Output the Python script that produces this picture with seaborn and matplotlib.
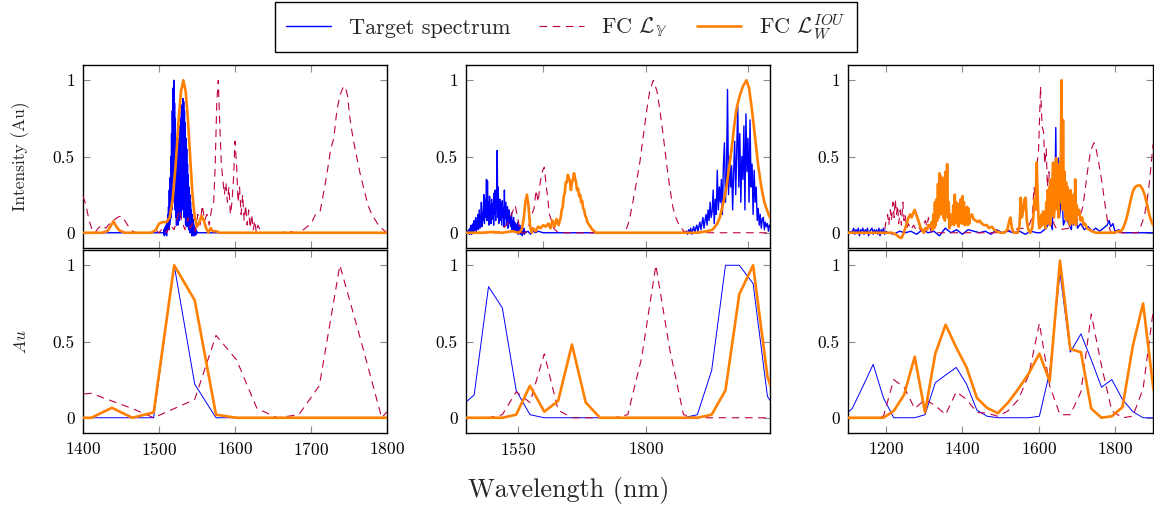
import numpy as np
import matplotlib
matplotlib.use("Agg")
import matplotlib.pyplot as plt
import seaborn as sns
from matplotlib.lines import Line2D

# ------------------------------------------------------------------ data
# ---- panel A (1400-1800 nm), top row: measured / predicted spectra
a_top_target_x0, a_top_target_step = 1506, 0.5
a_top_target_vals = [0.0, 0.02, -0.02, 0.03, -0.01, 0.04, 0.0, 0.05, -0.02, 0.07,
                     0.01, 0.12, 0.03, 0.17, 0.02, 0.28, 0.05, 0.36, 0.08, 0.5,
                     0.1, 0.65, 0.15, 0.8, 0.2, 0.95, 0.3, 1.0, 0.25, 0.85,
                     0.15, 0.75, 0.1, 0.62, 0.05, 0.58, 0.1, 0.52, 0.05, 0.55,
                     0.12, 0.62, 0.08, 0.7, 0.15, 0.75, 0.1, 0.8, 0.2, 0.84,
                     0.15, 0.88, 0.25, 0.86, 0.1, 0.8, 0.15, 0.72, 0.05, 0.62,
                     0.1, 0.55, 0.04, 0.45, 0.08, 0.38, 0.02, 0.3, 0.05, 0.25,
                     0.0, 0.2, 0.03, 0.15, -0.02, 0.12, 0.0, 0.09, -0.02, 0.06,
                     0.0, 0.04, -0.02, 0.03, -0.01, 0.02, -0.01, 0.01, 0.0]
a_top_fcy_x = [1400, 1404, 1408, 1412, 1416, 1420, 1425, 1430, 1435, 1440, 1445, 1450, 1455, 1460, 1465,
               1470, 1490, 1495, 1500, 1505, 1510, 1515, 1520, 1524, 1527, 1530, 1534, 1538, 1541, 1544,
               1548, 1551, 1554, 1557, 1560, 1563, 1566, 1569, 1572, 1574, 1576, 1578, 1580, 1582, 1584,
               1586, 1588, 1590, 1592, 1594, 1596, 1598, 1600, 1602, 1604, 1606, 1608, 1610, 1612, 1614,
               1616, 1618, 1620, 1622, 1624, 1626, 1628, 1630, 1634, 1640, 1660, 1670, 1680, 1690, 1700,
               1706, 1712, 1718, 1722, 1726, 1730, 1734, 1738, 1742, 1745, 1748, 1752, 1756, 1760, 1765,
               1770, 1775, 1780, 1785, 1790, 1795, 1800]
a_top_fcy_y = [0.24, 0.18, 0.08, 0.02, 0.0, 0.03, 0.05, 0.03, 0.06, 0.08, 0.1, 0.11, 0.08, 0.04, 0.01,
               0.0, 0.0, 0.02, 0.0, 0.03, 0.0, 0.05, 0.02, 0.1, 0.15, 0.08, 0.02, 0.1, 0.03, 0.06,
               0.01, 0.12, 0.05, 0.18, 0.08, 0.12, 0.05, 0.15, 0.2, 0.45, 0.85, 1.0, 0.7, 0.45, 0.35,
               0.25, 0.33, 0.2, 0.3, 0.12, 0.2, 0.35, 0.6, 0.45, 0.2, 0.3, 0.12, 0.25, 0.08, 0.18,
               0.05, 0.15, 0.03, 0.12, 0.02, 0.08, 0.0, 0.05, 0.01, 0.0, 0.0, 0.01, 0.0, 0.02, 0.06,
               0.12, 0.14, 0.3, 0.42, 0.55, 0.62, 0.8, 0.9, 0.95, 0.96, 0.9, 0.72, 0.6, 0.5, 0.38,
               0.28, 0.18, 0.12, 0.08, 0.04, 0.02, 0.0]
a_top_fciou_x = [1400, 1425, 1432, 1436, 1440, 1444, 1448, 1455, 1490, 1496, 1500, 1505, 1510, 1514, 1518,
                 1522, 1526, 1529, 1532, 1535, 1538, 1541, 1544, 1547, 1550, 1553, 1556, 1559, 1562, 1565,
                 1568, 1571, 1575, 1580, 1600, 1800]
a_top_fciou_y = [0.0, 0.0, 0.01, 0.04, 0.075, 0.04, 0.015, 0.0, 0.0, 0.02, 0.06, 0.07, 0.07, 0.1, 0.22,
                 0.45, 0.75, 0.93, 1.0, 0.93, 0.75, 0.5, 0.25, 0.1, 0.04, 0.07, 0.11, 0.08, 0.03, 0.0,
                 0.03, 0.01, 0.01, 0.0, 0.0, 0.0]

# ---- panel A, bottom row: binned spectra
a_bot_x = [1384, 1411, 1438, 1465, 1493, 1520, 1547, 1575, 1602, 1629, 1656, 1684, 1711, 1738, 1766, 1793, 1820]
a_bot_target = [0, 0, 0, 0, 0, 1.0, 0.22, 0, 0, 0, 0, 0, 0, 0, 0, 0, 0]
a_bot_fcy = [0.15, 0.16, 0.11, 0.06, 0.0, 0.06, 0.12, 0.54, 0.38, 0.06, 0.0, 0.02, 0.21, 1.0, 0.5, 0.0, 0.15]
a_bot_fciou = [0, 0, 0.065, 0, 0.035, 1.0, 0.77, 0.02, 0, 0, 0, 0, 0, 0, 0, 0, 0]

# ---- panel B (1449-2043 nm), top row
b_top_target_left_x0, b_top_target_left_step = 1455, 1
b_top_target_left = [0.02, -0.01, 0.03, 0.0, 0.05, -0.01, 0.04, 0.01, 0.06, 0.0,
                     0.08, 0.02, 0.05, 0.1, 0.01, 0.07, 0.03, 0.12, 0.02, 0.09,
                     0.15, 0.03, 0.11, 0.05, 0.2, 0.04, 0.13, 0.08, 0.18, 0.25,
                     0.06, 0.22, 0.1, 0.16, 0.35, 0.08, 0.34, 0.12, 0.2, 0.05,
                     0.24, 0.1, 0.18, 0.06, 0.22, 0.14, 0.09, 0.19, 0.05, 0.26,
                     0.12, 0.28, 0.08, 0.2, 0.15, 0.54, 0.1, 0.3, 0.06, 0.18,
                     0.22, 0.08, 0.2, 0.12, 0.05, 0.21, 0.1, 0.16, 0.04, 0.28,
                     0.09, 0.14, 0.2, 0.05, 0.12, 0.17, 0.03, 0.1, 0.15, 0.06,
                     0.11, 0.04, 0.09, 0.13, 0.02, 0.08, 0.05, 0.1, 0.01, 0.07,
                     0.03, 0.06, 0.0, 0.05, 0.02, 0.07, -0.01, 0.04, 0.01, 0.05,
                     -0.01, 0.03, 0.0, 0.04, -0.02, 0.02, 0.0, 0.03, -0.01, 0.01, 0.0]
b_top_target_mid_x = [1449, 1570, 1575, 1580, 1585, 1590, 1600, 1870]
b_top_target_mid_y = [0.0, 0.01, -0.01, 0.01, 0.0, 0.01, 0.0, 0.0]
b_top_target_right_x0, b_top_target_right_step = 1880, 2
b_top_target_right = [0.01, -0.01, 0.02, 0.0, 0.03, -0.01, 0.02, 0.04, 0.0, 0.03,
                      0.05, 0.01, 0.04, 0.07, 0.02, 0.06, 0.1, 0.03, 0.08, 0.12,
                      0.05, 0.15, 0.08, 0.2, 0.1, 0.14, 0.28, 0.06, 0.22, 0.12,
                      0.41, 0.15, 0.3, 0.2, 0.35, 0.12, 0.45, 0.59, 0.2, 0.38,
                      0.94, 0.25, 0.5, 0.3, 0.44, 0.15, 0.4, 0.6, 0.25, 0.55,
                      0.83, 0.3, 0.65, 0.2, 0.5, 0.35, 0.7, 0.15, 0.78, 0.4,
                      0.62, 0.2, 0.74, 0.3, 0.45, 0.12, 0.41, 0.2, 0.3, 0.08,
                      0.16, 0.05, 0.12, 0.03, 0.09, 0.1, 0.02, 0.07, 0.04, 0.06,
                      0.01, 0.05]
b_top_fcy_x = [1449, 1510, 1520, 1530, 1538, 1545, 1550, 1555, 1565, 1572, 1578, 1582, 1586, 1590, 1594,
               1598, 1602, 1606, 1609, 1612, 1616, 1620, 1629, 1760, 1768, 1775, 1782, 1789, 1796, 1802,
               1808, 1815, 1822, 1828, 1835, 1841, 1847, 1853, 1860, 1867, 1875, 1882, 2043]
b_top_fcy_y = [0.0, 0.0, 0.02, 0.06, 0.12, 0.18, 0.1, 0.0, 0.0, 0.05, 0.12, 0.16, 0.28, 0.2, 0.33,
               0.4, 0.43, 0.3, 0.22, 0.12, 0.08, 0.03, 0.0, 0.0, 0.08, 0.2, 0.33, 0.47, 0.65, 0.8,
               0.93, 1.0, 0.93, 0.8, 0.62, 0.45, 0.3, 0.17, 0.09, 0.04, 0.01, 0.0, 0.0]
b_top_fciou_x = [1449, 1480, 1500, 1520, 1540, 1552, 1558, 1562, 1565, 1568, 1571, 1574, 1577, 1580, 1585,
                 1590, 1595, 1600, 1605, 1610, 1614, 1618, 1622, 1626, 1630, 1634, 1636, 1638, 1640, 1642,
                 1644, 1646, 1648, 1650, 1652, 1654, 1656, 1658, 1660, 1662, 1664, 1666, 1668, 1670, 1672,
                 1674, 1676, 1678, 1680, 1682, 1684, 1686, 1688, 1690, 1696, 1703, 1900, 1920,
                 1931, 1940, 1945, 1952, 1958, 1964, 1968, 1973, 1978, 1984, 1990, 1997, 2002, 2008, 2014,
                 2020, 2026, 2032, 2038, 2043]
b_top_fciou_y = [0.0, 0.0, 0.005, 0.0, 0.01, 0.0, 0.02, 0.1, 0.2, 0.25, 0.18, 0.05, 0.0, 0.03, 0.01,
                 0.04, 0.03, 0.05, 0.04, 0.06, 0.03, 0.08, 0.04, 0.09, 0.05, 0.1, 0.15, 0.17, 0.24, 0.26,
                 0.33, 0.33, 0.38, 0.36, 0.34, 0.28, 0.33, 0.35, 0.39, 0.36, 0.33, 0.28, 0.29, 0.24, 0.25,
                 0.2, 0.21, 0.16, 0.15, 0.11, 0.1, 0.07, 0.06, 0.05, 0.02, 0.0, 0.0, 0.01,
                 0.02, 0.06, 0.1, 0.2, 0.3, 0.45, 0.55, 0.7, 0.82, 0.9, 0.96, 1.0, 0.95, 0.8, 0.62,
                 0.44, 0.3, 0.2, 0.14, 0.1]

# ---- panel B, bottom row
b_bot_x = [1438, 1465, 1493, 1520, 1547, 1574, 1602, 1629, 1656, 1683, 1711, 1738, 1765, 1792, 1820, 1847,
           1874, 1901, 1929, 1956, 1983, 2010, 2038, 2065]
b_bot_target = [0.07, 0.15, 0.86, 0.72, 0.18, 0.02, 0, 0, 0, 0, 0, 0, 0, 0, 0, 0, 0, 0.02, 0.31, 1.0, 1.0,
                0.88, 0.14, 0.0]
b_bot_fcy = [0, 0, 0, 0.02, 0.17, 0.1, 0.42, 0.05, 0, 0, 0, 0, 0.02, 0.39, 1.0, 0.45, 0.02, 0, 0, 0, 0,
             0, 0, 0]
b_bot_fciou = [0, 0, 0, 0, 0.02, 0.21, 0.04, 0.11, 0.48, 0.1, 0, 0, 0, 0, 0, 0, 0, 0, 0.02, 0.18, 0.81,
               1.0, 0.27, 0.0]

# ---- panel C (1100-1900 nm), top row
c_top_target_noise_x0, c_top_target_noise_step = 1112, 3
c_top_target_noise = [0.01, 0.03, -0.01, 0.02, 0.0, 0.03, -0.02, 0.02, 0.01, 0.03, -0.01, 0.02, 0.0,
                      0.03, -0.02, 0.01, 0.02, 0.03, -0.01, 0.02, 0.0, 0.02, -0.01, 0.03, -0.02, 0.02,
                      0.0, 0.03, -0.01, 0.01]
c_top_target_flat_x0, c_top_target_flat_step = 1205, 15
c_top_target_flat = [0.0, -0.01, 0.01, 0.0, 0.01, -0.01, 0.02, 0.0, 0.01, -0.02, 0.03, 0.0, 0.02, -0.01,
                     0.02, 0.01, 0.0, 0.01, -0.01, 0.02, 0.0, 0.01, 0.0, 0.01, -0.01, 0.01, 0.0]
c_top_target_x = [1100, 1605, 1620, 1630, 1636, 1638, 1641, 1643, 1645, 1647, 1650, 1652, 1655, 1658,
                  1660, 1665, 1672, 1680, 1686, 1689, 1692, 1697, 1702, 1710, 1720, 1730, 1740, 1750,
                  1760, 1770, 1780, 1785, 1789, 1795, 1800, 1810, 1820, 1900]
c_top_target_y = [0.0, 0.0, 0.03, 0.08, 0.02, 0.35, 0.1, 0.27, 0.69, 0.2, 0.3, 0.49, 0.1, 0.2,
                  0.3, 0.05, 0.1, 0.05, 0.02, 0.18, 0.05, 0.15, 0.03, 0.06, 0.02, 0.04, 0.01, 0.03,
                  0.01, 0.03, 0.05, 0.08, 0.04, 0.06, 0.01, 0.02, 0.0, 0.0]
c_top_fcy_x = [1100, 1195, 1200, 1204, 1207, 1211, 1214, 1218, 1221, 1224, 1227, 1230, 1233, 1237, 1240,
               1244, 1247, 1250, 1254, 1258, 1265, 1272, 1278, 1285, 1292, 1298, 1303, 1307, 1311, 1315,
               1320, 1500, 1530, 1560, 1575, 1583, 1588, 1592, 1596, 1600, 1605, 1609, 1613, 1616, 1620,
               1623, 1627, 1631, 1635, 1640, 1646, 1655, 1680, 1700, 1710, 1716, 1722, 1728, 1734, 1740,
               1745, 1750, 1756, 1763, 1768, 1772, 1777, 1781, 1786, 1790, 1860, 1866, 1872, 1878, 1884,
               1890, 1895, 1900]
c_top_fcy_y = [0.0, 0.0, 0.08, 0.12, 0.05, 0.15, 0.08, 0.2, 0.1, 0.22, 0.12, 0.18, 0.06, 0.15, 0.05,
               0.2, 0.08, 0.12, 0.03, 0.06, 0.02, 0.05, 0.02, 0.04, 0.01, 0.05, 0.08, 0.04, 0.1, 0.03,
               0.0, 0.0, 0.02, 0.03, 0.05, 0.1, 0.3, 0.2, 0.45, 0.55, 0.96, 0.7, 0.66, 0.45, 0.55,
               0.3, 0.4, 0.15, 0.2, 0.06, 0.03, 0.02, 0.03, 0.08, 0.12, 0.17, 0.28, 0.4, 0.5, 0.56,
               0.59, 0.56, 0.48, 0.38, 0.3, 0.22, 0.14, 0.07, 0.03, 0.0, 0.0, 0.03, 0.07, 0.12, 0.2,
               0.32, 0.44, 0.58]
c_top_fciou_pre_x = [1100, 1200, 1215, 1225, 1235, 1240, 1245, 1250, 1255, 1259, 1263, 1267, 1271, 1275,
                     1279, 1283, 1287, 1291, 1295, 1299, 1303, 1307, 1311, 1315]
c_top_fciou_pre_y = [0.0, 0.0, 0.0, -0.01, -0.03, -0.035, -0.01, 0.03, 0.07, 0.1, 0.12, 0.1, 0.13, 0.15,
                     0.12, 0.09, 0.06, 0.03, 0.02, 0.0, 0.03, 0.02, 0.05, 0.04]
c_top_fciou_band1_x0, c_top_fciou_band1_step = 1320, 2
c_top_fciou_band1 = [0.07, 0.02, 0.12, 0.03, 0.2, 0.05, 0.22, 0.08, 0.32, 0.1,
                     0.39, 0.12, 0.37, 0.15, 0.33, 0.1, 0.36, 0.08, 0.4, 0.12,
                     0.45, 0.1, 0.2, 0.03, 0.12, 0.05, 0.1, 0.06, 0.18, 0.05,
                     0.25, 0.08, 0.2, 0.06, 0.16, 0.04, 0.19, 0.08, 0.22, 0.06,
                     0.24, 0.1, 0.2, 0.05, 0.15, 0.07, 0.17, 0.05, 0.16, 0.06, 0.1]
c_top_fciou_mid_x = [1425, 1429, 1435, 1440, 1445, 1451, 1457, 1464, 1470, 1477, 1484, 1490, 1500, 1510,
                     1518, 1523, 1526, 1530, 1535, 1545, 1550, 1553, 1556, 1560, 1563, 1566, 1569, 1573,
                     1578, 1583, 1586, 1589, 1592, 1595, 1598]
c_top_fciou_mid_y = [0.12, 0.09, 0.08, 0.07, 0.08, 0.06, 0.05, 0.05, 0.03, 0.04, 0.02, 0.01, 0.0, 0.0,
                     0.02, 0.08, 0.1, 0.03, 0.0, 0.0, 0.05, 0.23, 0.1, 0.15, 0.22, 0.23, 0.08, 0.02,
                     0.0, 0.03, 0.1, 0.22, 0.15, 0.46, 0.2]
c_top_fciou_band2_x0, c_top_fciou_band2_step = 1600, 2
c_top_fciou_band2 = [0.08, 0.03, 0.1, 0.04, 0.12, 0.05, 0.14, 0.06, 0.13, 0.03,
                     0.2, 0.06, 0.28, 0.1, 0.3, 0.05, 0.35, 0.12, 0.3, 0.46,
                     0.1, 0.4, 0.15, 0.49, 0.2, 0.42, 0.1, 0.45, 0.2, 0.4,
                     1.0, 0.15, 0.74, 0.2, 0.4, 0.1, 0.33, 0.08, 0.3, 0.12,
                     0.25, 0.05, 0.28, 0.1, 0.22, 0.06, 0.25, 0.1, 0.35, 0.05, 0.18]
c_top_fciou_post_x = [1703, 1706, 1710, 1714, 1718, 1722, 1727, 1733, 1740, 1750, 1790, 1800, 1807, 1815,
                      1822, 1829, 1835, 1841, 1847, 1853, 1860, 1866, 1872, 1878, 1884, 1890, 1895, 1900]
c_top_fciou_post_y = [0.12, 0.15, 0.08, 0.1, 0.05, 0.06, 0.03, 0.02, 0.01, 0.0, 0.0, 0.0, 0.01, 0.01,
                      0.03, 0.08, 0.14, 0.21, 0.27, 0.3, 0.31, 0.31, 0.29, 0.25, 0.19, 0.12, 0.08, 0.05]

# ---- panel C, bottom row
c_bot_x = [1084, 1111, 1138, 1166, 1193, 1220, 1247, 1275, 1302, 1329, 1356, 1384, 1411, 1438, 1465, 1493,
           1520, 1547, 1574, 1602, 1629, 1656, 1683, 1711, 1738, 1765, 1792, 1820, 1847, 1874, 1901, 1929]
c_bot_target = [0.0, 0.06, 0.2, 0.35, 0.13, 0.0, 0.0, 0.0, 0.02, 0.23, 0.28, 0.33, 0.22, 0.05, 0.01, 0.0,
                0.0, 0.0, 0.0, 0.01, 0.3, 0.95, 0.43, 0.55, 0.38, 0.2, 0.25, 0.12, 0.04, 0.0, 0.0, 0.0]
c_bot_fcy = [0, 0, 0, 0, 0.01, 0.25, 0.2, 0.06, 0.12, 0.08, 0.02, 0.17, 0.12, 0.035, 0.03, 0.01,
             0.045, 0.12, 0.28, 0.62, 0.21, 0.02, 0.02, 0.17, 0.68, 0.34, 0.045, 0.0, 0.01, 0.19, 0.71, 0.9]
c_bot_fciou = [0, 0, 0, 0, 0, 0.045, 0.15, 0.4, 0.035, 0.42, 0.61, 0.46, 0.33, 0.13, 0.064, 0.03,
               0.1, 0.19, 0.29, 0.42, 0.24, 1.03, 0.45, 0.43, 0.06, 0.0, 0.01, 0.07, 0.47, 0.75, 0.19, 0.0]

# axis settings
y_ticks = [0, 0.5, 1]
y_tick_labels = ["0", "0.5", "1"]
legend_labels = ["Target spectrum", r"FC $\mathcal{L}_{\mathbb{Y}}$", r"FC $\mathcal{L}_{W}^{IOU}$"]

# ------------------------------------------------------------------ style
sns.set_theme(style="white")
plt.rcParams["font.family"] = ["cmr10", "DejaVu Serif"]
plt.rcParams["mathtext.fontset"] = "cm"
plt.rcParams["axes.formatter.use_mathtext"] = True
plt.rcParams["axes.unicode_minus"] = False
plt.rcParams["lines.scale_dashes"] = False

C_BLUE = "#0000FF"
C_PURPLE = "#BF0040"
C_ORANGE = "#FF8000"
DASH = (0, (5.5, 4.0))
LW_BLUE, LW_BLUE_TOP, LW_PURPLE, LW_ORANGE = 0.7, 1.0, 0.8, 1.9


def seg(x0, step, vals):
    return list(x0 + step * np.arange(len(vals))), list(vals)


def draw(ax, x, y, kind, lw=None):
    if kind == "t":
        sns.lineplot(x=x, y=y, ax=ax, color=C_BLUE, linewidth=lw or LW_BLUE, estimator=None,
                     sort=False, errorbar=None, zorder=2)
    elif kind == "y":
        sns.lineplot(x=x, y=y, ax=ax, color=C_PURPLE, linewidth=LW_PURPLE, linestyle=DASH,
                     estimator=None, sort=False, errorbar=None, zorder=3)
    else:
        sns.lineplot(x=x, y=y, ax=ax, color=C_ORANGE, linewidth=LW_ORANGE, estimator=None,
                     sort=False, errorbar=None, zorder=4)


fig = plt.figure(figsize=(11.54, 5.09), dpi=100)
W = 1154.0
H = 509.0


def make_ax(l, r, t, b):
    return fig.add_axes([l / W, 1 - b / H, (r - l) / W, (b - t) / H])


cols = [(83, 387), (466, 770), (848, 1153)]
rows = [(65, 248), (250, 433)]
axes = [[make_ax(c[0], c[1], r[0], r[1]) for c in cols] for r in rows]

# panel A
ax = axes[0][0]
tx, ty = seg(a_top_target_x0, a_top_target_step, a_top_target_vals)
draw(ax, [1400] + tx + [1800], [0.0] + ty + [0.0], "t", LW_BLUE_TOP)
draw(ax, a_top_fcy_x, a_top_fcy_y, "y")
draw(ax, a_top_fciou_x, a_top_fciou_y, "o")
ax = axes[1][0]
draw(ax, a_bot_x, a_bot_target, "t")
draw(ax, a_bot_x, a_bot_fcy, "y")
draw(ax, a_bot_x, a_bot_fciou, "o")

# panel B
ax = axes[0][1]
lx, ly = seg(b_top_target_left_x0, b_top_target_left_step, b_top_target_left)
rx, ry = seg(b_top_target_right_x0, b_top_target_right_step, b_top_target_right)
bx = [b_top_target_mid_x[0]] + lx + b_top_target_mid_x[1:] + rx
by = [b_top_target_mid_y[0]] + ly + b_top_target_mid_y[1:] + ry
draw(ax, bx, by, "t", LW_BLUE_TOP)
draw(ax, b_top_fcy_x, b_top_fcy_y, "y")
draw(ax, b_top_fciou_x, b_top_fciou_y, "o")
ax = axes[1][1]
draw(ax, b_bot_x, b_bot_target, "t")
draw(ax, b_bot_x, b_bot_fcy, "y")
draw(ax, b_bot_x, b_bot_fciou, "o")

# panel C
ax = axes[0][2]
nx, ny = seg(c_top_target_noise_x0, c_top_target_noise_step, c_top_target_noise)
fx, fy = seg(c_top_target_flat_x0, c_top_target_flat_step, c_top_target_flat)
cx = [c_top_target_x[0]] + nx + fx + c_top_target_x[1:]
cy = [c_top_target_y[0]] + ny + fy + c_top_target_y[1:]
draw(ax, cx, cy, "t", LW_BLUE_TOP)
draw(ax, c_top_fcy_x, c_top_fcy_y, "y")
b1x, b1y = seg(c_top_fciou_band1_x0, c_top_fciou_band1_step, c_top_fciou_band1)
b2x, b2y = seg(c_top_fciou_band2_x0, c_top_fciou_band2_step, c_top_fciou_band2)
ox = c_top_fciou_pre_x + b1x + c_top_fciou_mid_x + b2x + c_top_fciou_post_x
oy = c_top_fciou_pre_y + b1y + c_top_fciou_mid_y + b2y + c_top_fciou_post_y
draw(ax, ox, oy, "o")
ax = axes[1][2]
draw(ax, c_bot_x, c_bot_target, "t")
draw(ax, c_bot_x, c_bot_fcy, "y")
draw(ax, c_bot_x, c_bot_fciou, "o")

xlims = [(1400, 1800), (1449, 2043), (1100, 1900)]
top_ticks = [[1400, 1500, 1600, 1700, 1800], [1600, 1800, 2000], [1200, 1400, 1600, 1800]]
bot_ticks = [[1400, 1500, 1600, 1700, 1800], [1550, 1800], [1200, 1400, 1600, 1800]]

for ri in range(2):
    for ci in range(3):
        ax = axes[ri][ci]
        ax.set_xlim(*xlims[ci])
        ax.set_ylim(-0.1, 1.1)
        ax.set_xticks(top_ticks[ci] if ri == 0 else bot_ticks[ci])
        ax.set_yticks(y_ticks)
        ax.set_yticklabels(y_tick_labels)
        ax.tick_params(axis="both", which="both", direction="in", top=True, right=True,
                       bottom=True, left=True, length=5, width=0.8, color="#8c8c8c",
                       labelsize=12.5, labelcolor="black", pad=6)
        if ri == 0:
            ax.tick_params(axis="x", labelbottom=False)
        ax.set_xlabel("")
        ax.set_ylabel("")
        for s in ax.spines.values():
            s.set_visible(True)
            s.set_color("black")
            s.set_linewidth(1.0)
        ax.grid(False)

axes[0][0].set_ylabel("Intensity (Au)", fontsize=12.5, labelpad=16)
axes[1][0].set_ylabel(r"$Au$", fontsize=12.5, labelpad=17)

fig.text(569 / W, 1 - 491 / H, "Wavelength (nm)", ha="center", va="center", fontsize=18.8)

handles = [Line2D([], [], color=C_BLUE, lw=LW_BLUE + 0.3),
           Line2D([], [], color=C_PURPLE, lw=LW_PURPLE, linestyle=DASH),
           Line2D([], [], color=C_ORANGE, lw=LW_ORANGE)]
leg = fig.legend(handles, legend_labels, loc="center", bbox_to_anchor=(566 / W, 1 - 27 / H), ncol=3,
                 frameon=True, fancybox=False, edgecolor="black", framealpha=1, fontsize=16,
                 handlelength=2.0, columnspacing=1.3, handletextpad=0.8, borderpad=0.5)
leg.get_frame().set_linewidth(1.0)

fig.savefig("out.png", dpi=100)
